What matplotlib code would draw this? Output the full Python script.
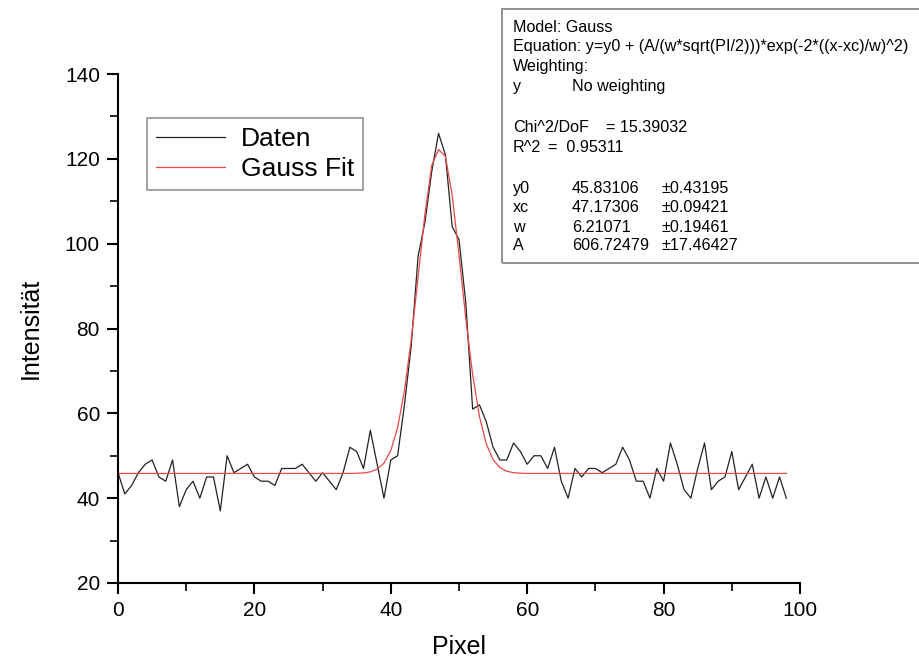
import numpy as np
import matplotlib as mpl
from matplotlib import pyplot as plt
from matplotlib.patches import Rectangle

mpl.rcParams['font.family'] = ['Liberation Sans', 'DejaVu Sans']

W, H = 919, 662

# Messdaten (Pixel 0..98)
pixel = list(range(99))
daten = [46, 41, 43, 46, 48, 49, 45, 44, 49, 38,
         42, 44, 40, 45, 45, 37, 50, 46, 47, 48,
         45, 44, 44, 43, 47, 47, 47, 48, 46, 44,
         46, 44, 42, 46, 52, 51, 47, 56, 48, 40,
         49, 50, 62, 76, 97, 105, 117, 126, 121, 104,
         101, 86, 61, 62, 58, 52, 49, 49, 53, 51,
         48, 50, 50, 47, 52, 44, 40, 47, 45, 47,
         47, 46, 47, 48, 52, 49, 44, 44, 40, 47,
         44, 53, 48, 42, 40, 47, 53, 42, 44, 45,
         51, 42, 45, 48, 40, 45, 40, 45, 40]

# Gauss Fit
fit_left = [45.83] * 35
fit_peak = [45.87, 45.95, 46.19, 46.82, 48.27, 51.24, 56.64, 65.30, 77.43,
            92.08, 106.86, 118.41, 122.2, 120.6, 111.39, 97.34, 82.30,
            69.12, 59.24, 52.78, 49.08, 47.20, 46.35, 46.01, 45.88]
fit_right = [45.83] * 39
gauss_fit = fit_left + fit_peak + fit_right

info_lines = [
    ("Model: Gauss", None, None),
    ("Equation: y=y0 + (A/(w*sqrt(PI/2)))*exp(-2*((x-xc)/w)^2)", None, None),
    ("Weighting:", None, None),
    ("y", "No weighting", None),
    ("", None, None),
    ("Chi^2/DoF", "= 15.39032", None),
    ("R^2", "=  0.95311", None),
    ("", None, None),
    ("y0", "45.83106", "\u00b10.43195"),
    ("xc", "47.17306", "\u00b10.09421"),
    ("w", "6.21071", "\u00b10.19461"),
    ("A", "606.72479", "\u00b117.46427"),
]


def fx(x):
    return x / W


def fy(y):
    return 1 - y / H


fig = plt.figure(figsize=(W / 100, H / 100), dpi=100)
ax = fig.add_axes([fx(118), fy(583), (800 - 118) / W, (583 - 74) / H])

ax.plot(pixel, daten, color='#222222', lw=0.9, label='Daten')
ax.plot(pixel, gauss_fit, color='#e8484a', lw=0.9, label='Gauss Fit')

ax.set_xlim(0, 100)
ax.set_ylim(20, 140)
ax.set_xticks(np.arange(0, 101, 20))
ax.set_xticks(np.arange(0, 101, 10), minor=True)
ax.set_yticks(np.arange(20, 141, 20))
ax.set_yticks(np.arange(20, 141, 10), minor=True)

for s in ['top', 'right']:
    ax.spines[s].set_visible(False)
for s in ['left', 'bottom']:
    ax.spines[s].set_linewidth(1.5)
ax.tick_params(which='major', direction='out', length=8, width=1.5,
               labelsize=15, pad=5)
ax.tick_params(which='minor', direction='out', length=6, width=1.2)

ax.set_xlabel('Pixel', fontsize=18, labelpad=11)
ax.set_ylabel('Intensit\u00e4t', fontsize=18, labelpad=16)

leg = ax.legend(loc='upper left', bbox_to_anchor=(fx(147 - 118) * W / 682, 1 - (118 - 74) / 509),
                fontsize=19, frameon=True, fancybox=False, borderpad=0.35,
                handlelength=2.6, handletextpad=0.6, labelspacing=0.22,
                borderaxespad=0)
leg.get_frame().set_edgecolor('#777777')
leg.get_frame().set_linewidth(1.2)

# fit info box
fig.patches.append(Rectangle((fx(502), fy(263)), fx(440), (263 - 9) / H,
                             transform=fig.transFigure, fill=False,
                             edgecolor='#888888', lw=1.3))
ys = [27, 47, 67, 87, 107, 128, 147, 167, 188, 207, 227, 246]
for (a, b, c), y in zip(info_lines, ys):
    if not a:
        continue
    fig.text(fx(513), fy(y), a, fontsize=11.6, va='center')
    if b is not None:
        bx = 572
        if a.startswith('Chi'):
            bx = 606
        elif a.startswith('R^2'):
            bx = 548
        fig.text(fx(bx), fy(y), b, fontsize=11.6, va='center')
    if c is not None:
        fig.text(fx(662), fy(y), c, fontsize=11.6, va='center')

fig.savefig('out.png', dpi=100)
